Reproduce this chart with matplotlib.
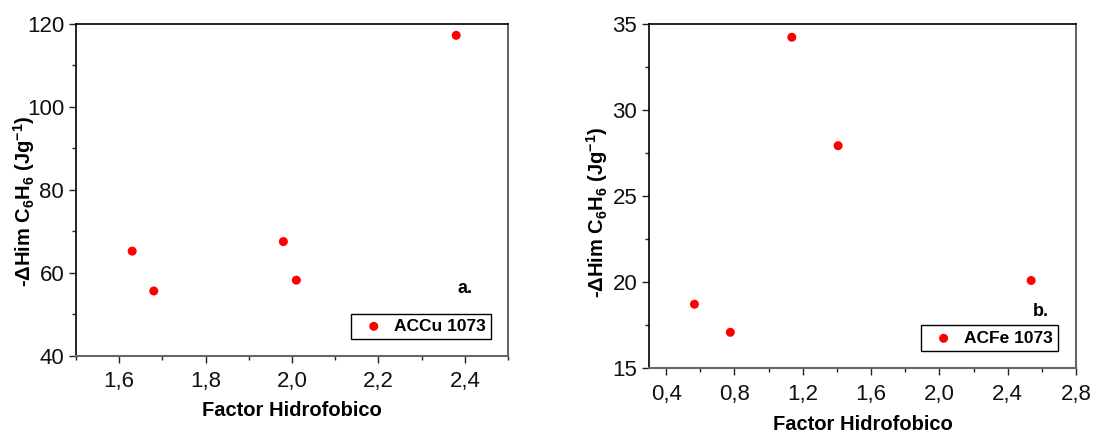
import matplotlib
matplotlib.use("Agg")
import matplotlib.pyplot as plt
from matplotlib.ticker import MultipleLocator, FuncFormatter

plt.rcParams['font.family'] = ['Liberation Sans', 'DejaVu Sans']
plt.rcParams['mathtext.fontset'] = 'custom'
plt.rcParams['mathtext.rm'] = 'Liberation Sans:bold'
plt.rcParams['mathtext.it'] = 'Liberation Sans:bold'
plt.rcParams['mathtext.bf'] = 'Liberation Sans:bold'

# Panel a: ACCu 1073
cu_factor = [1.63, 1.68, 1.98, 2.01, 2.38]
cu_enthalpy = [65.2, 55.6, 67.5, 58.2, 117.2]
cu_label = "ACCu 1073"

# Panel b: ACFe 1073
fe_factor = [0.566, 0.776, 1.136, 1.407, 2.537]
fe_enthalpy = [18.72, 17.09, 34.23, 27.93, 20.10]
fe_label = "ACFe 1073"

xlabel = "Factor Hidrofobico"
ylabel = r"-$\Delta$Him C$_6$H$_6$ (Jg$^{-1}$)"

comma = FuncFormatter(lambda v, p: (f"{v:.1f}").replace(".", ","))
intfmt = FuncFormatter(lambda v, p: f"{v:.0f}")

fig = plt.figure(figsize=(11.18, 4.32), dpi=100)
ax1 = fig.add_axes([0.068, 0.1766, 0.3864, 0.7685])
ax2 = fig.add_axes([0.5805, 0.1475, 0.382, 0.797])


def style(ax, xlim, ylim, xmaj, xmin, ymaj, ymin, tag, tagpos, legpos,
          ylab_xy, xlab_y):
    ax.set_xlim(*xlim)
    ax.set_ylim(*ylim)
    ax.xaxis.set_major_locator(MultipleLocator(xmaj))
    ax.xaxis.set_minor_locator(MultipleLocator(xmin))
    ax.yaxis.set_major_locator(MultipleLocator(ymaj))
    ax.yaxis.set_minor_locator(MultipleLocator(ymin))
    ax.xaxis.set_major_formatter(comma)
    ax.yaxis.set_major_formatter(intfmt)
    ax.tick_params(which='major', direction='out', length=5, width=1,
                   labelsize=16, colors='#222222', labelcolor='#111111')
    ax.tick_params(which='minor', direction='out', length=3, width=1,
                   colors='#222222')
    ax.tick_params(axis='x', pad=6)
    for side in ('left', 'top'):
        ax.spines[side].set_color('black')
        ax.spines[side].set_linewidth(1.2)
    for side in ('right', 'bottom'):
        ax.spines[side].set_color('#666666')
        ax.spines[side].set_linewidth(1.5)
    ax.set_xlabel(xlabel, fontsize=14.5, fontweight='bold')
    ax.xaxis.set_label_coords(0.5, xlab_y)
    ax.set_ylabel(ylabel, fontsize=14.5, fontweight='bold')
    ax.yaxis.set_label_coords(*ylab_xy)
    ax.text(tagpos[0], tagpos[1], tag, transform=ax.transAxes,
            fontsize=13, fontweight='bold', ha='left', va='center')
    leg = ax.legend(loc='lower left', bbox_to_anchor=legpos, frameon=True,
                    fancybox=False, edgecolor='black', framealpha=1,
                    prop={'weight': 'bold', 'size': 12.5}, handletextpad=0.15,
                    borderpad=0.3, handlelength=2.0, borderaxespad=0)
    leg.get_frame().set_linewidth(1.0)


ax1.scatter(cu_factor, cu_enthalpy, s=42, color='#ff0000', edgecolors='none',
            label=cu_label, zorder=3)
style(ax1, (1.5, 2.5), (40, 120), 0.2, 0.1, 20, 10, "a.", (0.884, 0.203),
      (0.637, 0.05), (-0.09, 0.466), -0.136)

ax2.scatter(fe_factor, fe_enthalpy, s=42, color='#ff0000', edgecolors='none',
            label=fe_label, zorder=3)
style(ax2, (0.3, 2.8), (15, 35), 0.4, 0.2, 5, 2.5, "b.", (0.899, 0.165),
      (0.637, 0.05), (-0.092, 0.454), -0.136)

fig.savefig("out.png", dpi=100)
